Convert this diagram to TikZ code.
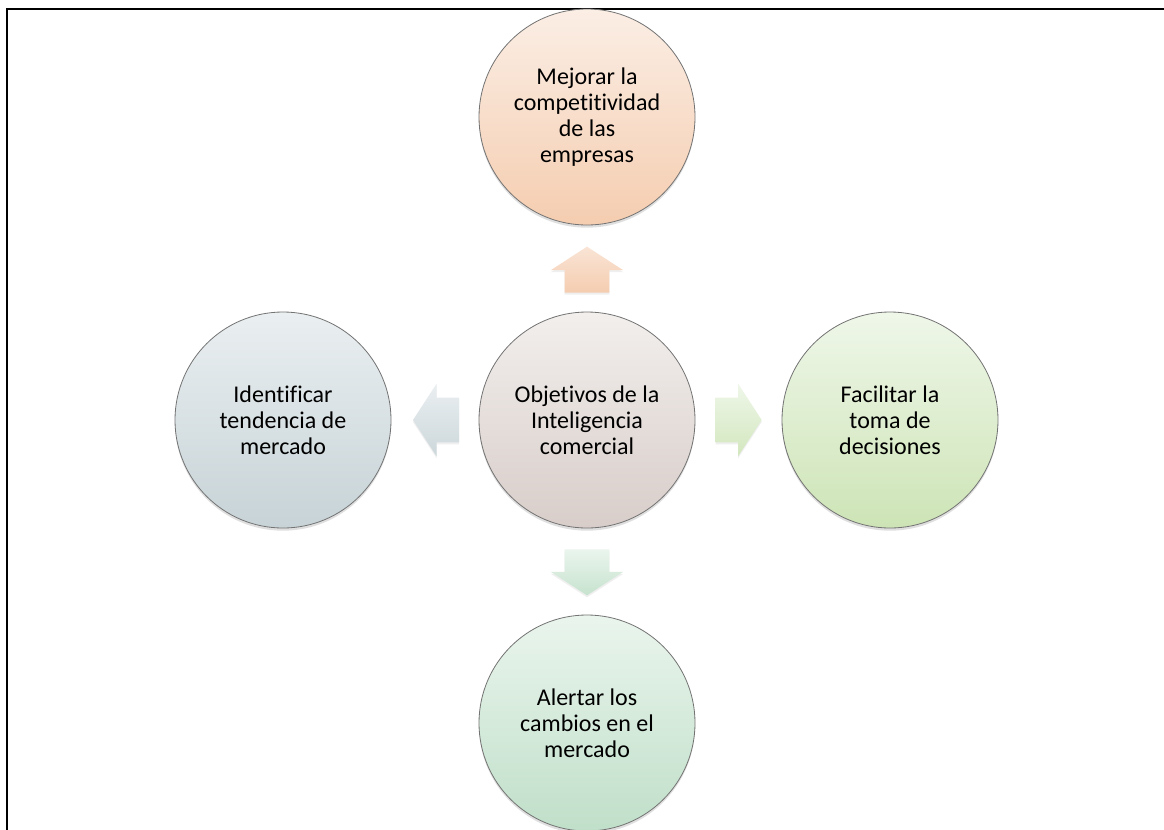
\documentclass[tikz,border=0pt]{standalone}
\usepackage{fontspec}
\setmainfont[Ligatures={NoCommon}]{Carlito}
\usetikzlibrary{calc}
\usetikzlibrary{shapes.arrows}
\usetikzlibrary{shadows}
\definecolor{peachA}{HTML}{FBEEE5}
\definecolor{peachB}{HTML}{F5CDB0}
\definecolor{taupeA}{HTML}{F2EFED}
\definecolor{taupeB}{HTML}{D8CDC9}
\definecolor{slateA}{HTML}{EAEFF1}
\definecolor{slateB}{HTML}{C7D3D7}
\definecolor{limeA}{HTML}{EFF7E9}
\definecolor{limeB}{HTML}{CDE4B6}
\definecolor{mintA}{HTML}{EAF5ED}
\definecolor{mintB}{HTML}{C0DFC9}
\tikzset{objetivo/.style = {circle, draw=black!55, line width=0.6pt,
                            minimum size=162pt, inner sep=0pt, align=center,
                            font=\fontsize{18}{19.4}\selectfont,
                            drop shadow={opacity=0.25, shadow xshift=0pt,
                                         shadow yshift=-2pt}},
         flecha/.style = {single arrow, draw=none, anchor=tail,
                          minimum height=34.5pt,
                          single arrow head extend=10.5pt,
                          single arrow tip angle=114,
                          drop shadow={opacity=0.12, shadow xshift=0pt,
                                       shadow yshift=-1.5pt}},
         flechah/.style = {flecha, inner xsep=0pt, inner ysep=16.5pt},
         flechav/.style = {flecha, inner xsep=16.5pt, inner ysep=0pt}}

\begin{document}
\begin{tikzpicture}[x=0.75pt, y=-0.75pt]
    \useasboundingbox (0, 0) rectangle (1164, 829);
    \clip (0, 0) rectangle (1164, 829);
    \fill [white] (0, 0) rectangle (1164, 829);
    \draw [line width=1.6pt] (7, 830) -- (7, 9) -- (1165, 9);

    \node [objetivo, top color=taupeA, bottom color=taupeB] (obj) at (587, 420)
        {Objetivos de la\\Inteligencia\\comercial};
    \node [objetivo, top color=peachA, bottom color=peachB] (sup) at (587, 117)
        {Mejorar la\\competitividad\\de las\\empresas};
    \node [objetivo, top color=limeA, bottom color=limeB] (der) at (890, 420)
        {Facilitar la\\toma de\\decisiones};
    \node [objetivo, top color=mintA, bottom color=mintB] (inf) at (587, 723)
        {Alertar los\\cambios en el\\mercado};
    \node [objetivo, top color=slateA, bottom color=slateB] (izq) at (283, 420)
        {Identificar\\tendencia de\\mercado};

    \node [flechav, shape border rotate=90, top color=peachA!70!peachB, bottom color=peachB]
        (fsup) at ([yshift=14pt]obj.north) {};
    \node [flechah, shape border rotate=0, top color=limeA, bottom color=limeB!85!limeA]
        (fder) at ([xshift=15pt]obj.east) {};
    \node [flechav, shape border rotate=270, top color=mintA, bottom color=mintB!85!mintA]
        (finf) at ([yshift=-15.5pt]obj.south) {};
    \node [flechah, shape border rotate=180, top color=slateA, bottom color=slateB!85!slateA]
        (fizq) at ([xshift=-14.5pt]obj.west) {};
  \end{tikzpicture}
\end{document}
